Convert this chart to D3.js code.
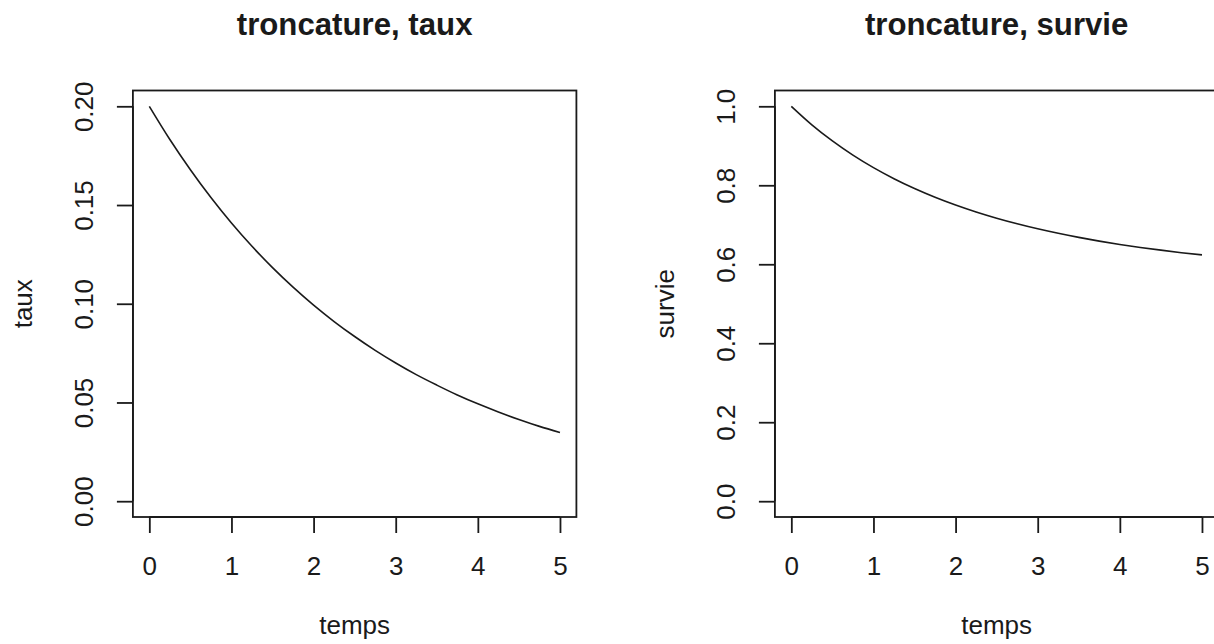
<!DOCTYPE html>
<html><head><meta charset="utf-8">
<script src="https://cdn.jsdelivr.net/npm/d3@7"></script>
<style>body{margin:0;background:#fff}</style>
</head><body>
<script>
// data
const temps = [0,0.25,0.5,0.75,1,1.25,1.5,1.75,2,2.25,2.5,2.75,3,3.25,3.5,3.75,4,4.25,4.5,4.75,5];
const taux = [0.2,0.1832,0.1679,0.1538,0.1409,0.1291,0.1183,0.1084,0.0993,0.0910,0.0834,0.0764,0.0700,0.0641,0.0588,0.0538,0.0493,0.0452,0.0414,0.0379,0.0348];
const survie = [1,0.9532,0.9124,0.8764,0.8447,0.8167,0.7918,0.7697,0.7500,0.7324,0.7166,0.7025,0.6897,0.6783,0.6680,0.6586,0.6502,0.6426,0.6357,0.6293,0.6237];
const xTicks = [0,1,2,3,4,5];
const tauxTicks = [0,0.05,0.1,0.15,0.2];
const tauxTickLabels = ["0.00","0.05","0.10","0.15","0.20"];
const survieTicks = [0,0.2,0.4,0.6,0.8,1];
const survieTickLabels = ["0.0","0.2","0.4","0.6","0.8","1.0"];

const W = 1214, H = 644;
const svg = d3.select("body").append("svg").attr("width", W).attr("height", H)
  .style("font-family", "'Liberation Sans', Arial, sans-serif");

const box = {l:132.9, r:576.4, t:90.5, b:517};
const fs = 26, fsMain = 31.2, col = "#1a1a1a";

function panel(offset, title, ylab, ys, yTicks, yLabels, ymax) {
  const g = svg.append("g").attr("transform", `translate(${offset},0)`);
  const x = d3.scaleLinear().domain([-0.2, 5.2]).range([box.l, box.r]);
  const pad = ymax * 0.04;
  const y = d3.scaleLinear().domain([-pad, ymax + pad]).range([box.b, box.t]);

  g.append("rect").attr("x", box.l).attr("y", box.t)
    .attr("width", box.r - box.l).attr("height", box.b - box.t)
    .attr("fill", "none").attr("stroke", col).attr("stroke-width", 1.8);

  const xAxis = d3.axisBottom(x).tickValues(xTicks).tickSize(16).tickFormat(d3.format("d"));
  const gx = g.append("g").attr("transform", `translate(0,${box.b})`).call(xAxis);
  gx.select(".domain").attr("d", `M${x(0)},0H${x(5)}`).attr("stroke", col).attr("stroke-width", 1.8);
  gx.selectAll(".tick line").attr("stroke", col).attr("stroke-width", 1.8);
  gx.selectAll(".tick text").attr("font-size", fs).attr("fill", col).attr("font-family", "'Liberation Sans', Arial, sans-serif")
    .attr("y", 58).attr("dy", null);

  const yAxis = d3.axisLeft(y).tickValues(yTicks).tickSize(16).tickFormat((d, i) => yLabels[i]);
  const gy = g.append("g").attr("transform", `translate(${box.l},0)`).call(yAxis);
  gy.select(".domain").attr("d", `M0,${y(yTicks[0])}V${y(yTicks[yTicks.length-1])}`).attr("stroke", col).attr("stroke-width", 1.8);
  gy.selectAll(".tick line").attr("stroke", col).attr("stroke-width", 1.8);
  gy.selectAll(".tick text").attr("font-size", fs).attr("fill", col).attr("font-family", "'Liberation Sans', Arial, sans-serif")
    .attr("x", null).attr("dy", null).attr("text-anchor", "middle")
    .attr("transform", `translate(${93.3 - box.l},0) rotate(-90)`);

  const cx = (box.l + box.r) / 2, cy = (box.t + box.b) / 2;
  g.append("text").attr("x", cx).attr("y", 35).attr("text-anchor", "middle")
    .attr("font-size", fsMain).attr("font-weight", "bold").attr("fill", col).text(title);
  g.append("text").attr("x", cx).attr("y", 634).attr("text-anchor", "middle")
    .attr("font-size", fs).attr("fill", col).text("temps");
  g.append("text").attr("transform", `translate(32,${cy}) rotate(-90)`).attr("text-anchor", "middle")
    .attr("font-size", fs).attr("fill", col).text(ylab);

  const line = d3.line().x((d, i) => x(temps[i])).y(d => y(d)).curve(d3.curveMonotoneX);
  g.append("path").datum(ys).attr("d", line).attr("fill", "none")
    .attr("stroke", col).attr("stroke-width", 1.6);
}

panel(0, "troncature, taux", "taux", taux, tauxTicks, tauxTickLabels, 0.2);
panel(642, "troncature, survie", "survie", survie, survieTicks, survieTickLabels, 1);
</script>
</body></html>
